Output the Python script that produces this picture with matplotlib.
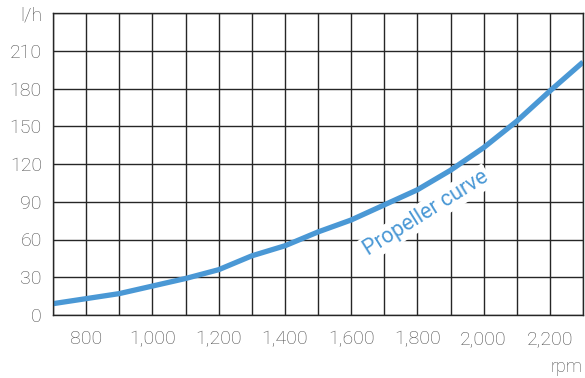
import matplotlib
matplotlib.use("Agg")
import matplotlib.pyplot as plt

rpm = [700, 800, 900, 1000, 1100, 1200, 1300, 1400, 1500, 1600, 1700, 1800, 1900, 2000, 2100, 2200, 2300]
flow = [9, 13, 17, 23, 29, 36, 47, 55, 66, 75.5, 87.5, 99.5, 115, 133, 154, 178, 201]

xticks = [800, 1000, 1200, 1400, 1600, 1800, 2000, 2200]
xticklabels = ["800", "1,000", "1,200", "1,400", "1,600", "1,800", "2,000", "2,200"]
yticks = [0, 30, 60, 90, 120, 150, 180, 210, 240]
yticklabels = ["0", "30", "60", "90", "120", "150", "180", "210", "l/h"]

plt.rcParams['font.family'] = ["Roboto", "DejaVu Sans"]
plt.rcParams['font.weight'] = "light"

fig = plt.figure(figsize=(5.85, 3.78), dpi=100)
ax = fig.add_axes([53/585, 1-315/378, 530/585, 302/378])

blue = "#4a98d5"
gridc = "#262626"

for x in range(700, 2301, 100):
    ax.axvline(x, color=gridc, lw=1.0, zorder=1)
for y in yticks:
    ax.axhline(y, color=gridc, lw=1.0, zorder=1)

ax.plot(rpm, flow, color=blue, lw=3.8, solid_capstyle='butt', zorder=4)

ax.text(1826, 81, "Propeller curve", color=blue, fontsize=15.5, rotation=32,
        ha="center", va="center", fontweight="normal",
        bbox=dict(facecolor="white", edgecolor="none", pad=1.5), zorder=3)

ax.set_xlim(700, 2300)
ax.set_ylim(0, 240)
ax.set_xticks(xticks)
ax.set_xticklabels(xticklabels)
ax.set_yticks(yticks)
ax.set_yticklabels(yticklabels)
ax.tick_params(length=0, labelsize=14, colors="#4d4d4d", pad=8)
ax.tick_params(axis='x', pad=11)
for s in ax.spines.values():
    s.set_color(gridc)
    s.set_linewidth(1.0)
    s.set_zorder(5)

fig.text(583/585, 1-367/378, "rpm", ha="right", va="center", fontsize=13, color="#4d4d4d")

fig.savefig("out.png", dpi=100)
